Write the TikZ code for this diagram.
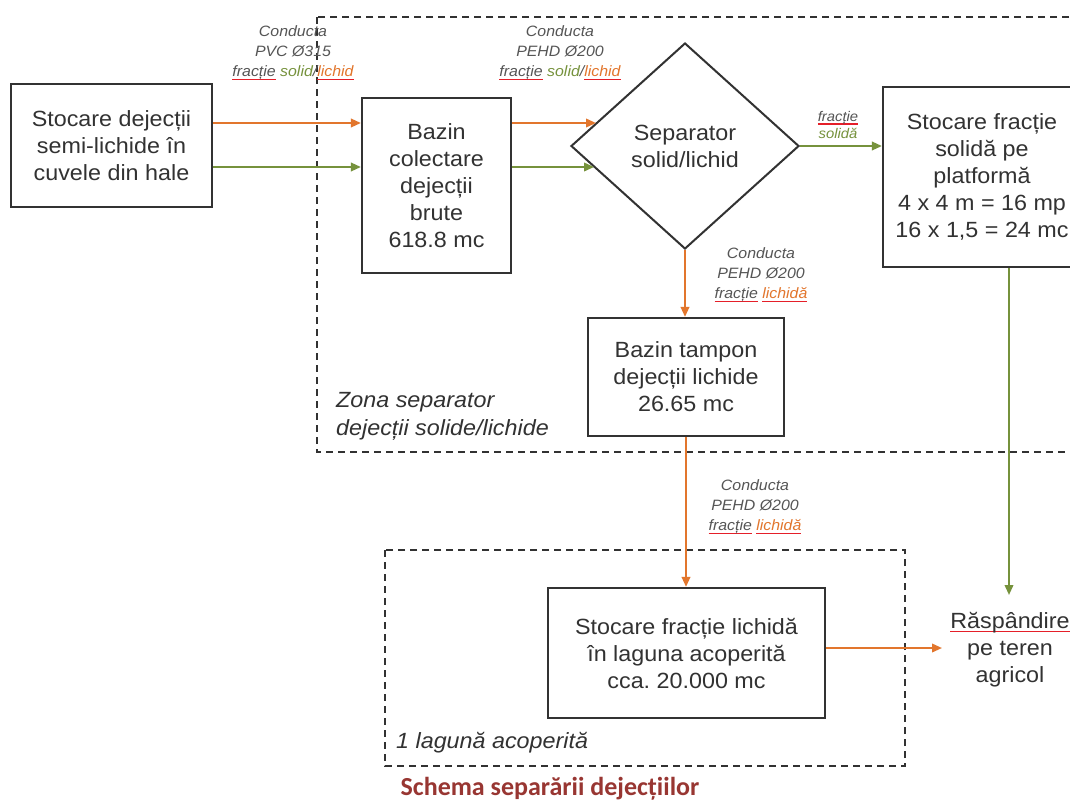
\documentclass[tikz,border=0pt]{standalone}
\usepackage{fontspec}
\setmainfont{Liberation Sans}[FakeStretch=1.06]
\newfontfamily\titlefont{Carlito}
\usetikzlibrary{shapes.geometric,arrows.meta}
\definecolor{orng}{RGB}{226,118,45}
\definecolor{grn}{RGB}{118,146,60}
\definecolor{ink}{RGB}{50,50,50}
\definecolor{lbl}{RGB}{85,85,85}
\definecolor{ttl}{RGB}{152,54,50}
\frenchspacing
\newsavebox\wavebox
\newcommand\redwave[1]{\sbox\wavebox{#1}\rlap{\special{color push rgb 0.9 0.12 0.16}\rule[-3pt]{\wd\wavebox}{1.1pt}\special{color pop}}\usebox\wavebox}
\tikzset{
  box/.style={draw=ink, line width=2.2pt, fill=white, text=ink, align=center,
    font=\fontsize{22}{27}\selectfont, inner sep=0pt},
  lab/.style={text=lbl, align=center, font=\itshape\fontsize{15}{20}\selectfont, inner sep=0pt},
  zonebox/.style={draw=ink, line width=2.2pt, dash pattern=on 7pt off 5pt},
  oarr/.style={draw=orng, line width=2pt, -{Triangle[length=10pt,width=8.5pt]}},
  garr/.style={draw=grn, line width=2pt, -{Triangle[length=10pt,width=8.5pt]}},
}
\begin{document}
\begin{tikzpicture}[x=1pt,y=-1pt]
\useasboundingbox (0,0) rectangle (1070,803);
\fill[white] (0,0) rectangle (1070,803);
\clip (0,0) rectangle (1070,803);

% zones
\draw[zonebox] (317,17) rectangle (1080,452);
\draw[zonebox] (385,550) rectangle (905,766);

% nodes
\node[box, minimum width=201pt, minimum height=123pt] (stoc) at (111.5,145.5)
  {Stocare dejecții\\semi-lichide în\\cuvele din hale};
\node[box, minimum width=149pt, minimum height=175pt] (baz) at (436.5,185.5)
  {Bazin\\colectare\\dejecții\\brute\\618.8 mc};
\node[box, diamond, minimum width=228pt, minimum height=206pt, line width=2pt] (sep) at (685,146)
  {Separator\\solid/lichid};
\node[box, minimum width=198pt, minimum height=180pt] (sol) at (982,177)
  {Stocare fracție\\solidă pe\\platformă\\4 x 4 m = 16 mp\\16 x 1,5 = 24 mc};
\node[box, minimum width=196pt, minimum height=118pt] (tam) at (686,377)
  {Bazin tampon\\dejecții lichide\\26.65 mc};
\node[box, minimum width=277pt, minimum height=130pt] (lag) at (686.5,653)
  {Stocare fracție lichidă\\în laguna acoperită\\cca. 20.000 mc};
\node[box, draw=none, fill=none] (rasp) at (1010,650)
  {\redwave{Răspândire}\\pe teren\\agricol};

% zone labels
\node[text=ink, align=left, anchor=west, font=\itshape\fontsize{22}{28}\selectfont, inner sep=0pt] (zl1) at (336,416)
  {Zona separator\\dejecții solide/lichide};
\node[text=ink, align=left, anchor=west, font=\itshape\fontsize{22}{28}\selectfont, inner sep=0pt] (zl2) at (396,743)
  {1 lagună acoperită};

% conduit labels
\node[lab] (l1) at (293,53) {Conducta\\PVC Ø315\\\redwave{fracție} {\color{grn}solid}/{\color{orng}\redwave{lichid}}};
\node[lab] (l2) at (560,53) {Conducta\\PEHD Ø200\\\redwave{fracție} {\color{grn}solid}/{\color{orng}\redwave{lichid}}};
\node[lab] (l3) at (761,275) {Conducta\\PEHD Ø200\\\redwave{fracție} {\color{orng}\redwave{lichidă}}};
\node[lab] (l4) at (755,507) {Conducta\\PEHD Ø200\\\redwave{fracție} {\color{orng}\redwave{lichidă}}};
\node[lab, font=\itshape\fontsize{14}{17}\selectfont] (l5) at (838,125) {\redwave{fracție}\\{\color{grn}solidă}};

% connectors
\coordinate (o1) at (0,123);
\coordinate (g1) at (0,167);
\coordinate (sepo) at (596,123);
\coordinate (sepg) at (594,167);
\coordinate (gx) at (1009,595);
\coordinate (ox) at (942,648);
\draw[oarr] (stoc.east |- o1) -- (baz.west |- o1);
\draw[garr] (stoc.east |- g1) -- (baz.west |- g1);
\draw[oarr] (baz.east |- o1) -- (sepo);
\draw[garr] (baz.east |- g1) -- (sepg);
\draw[garr] (sep.east) -- (sep.east -| sol.west);
\draw[oarr] (sep.south) -- (sep.south |- tam.north);
\draw[oarr] (tam.south) -- (tam.south |- lag.north);
\draw[garr] (sol.south -| gx) -- (gx);
\draw[oarr] (lag.east |- ox) -- (ox);

% title
\node[text=ttl, font=\titlefont\bfseries\fontsize{26}{30}\selectfont, inner sep=0pt] (title) at (550,789)
  {Schema separării dejecțiilor};
\end{tikzpicture}
\end{document}
